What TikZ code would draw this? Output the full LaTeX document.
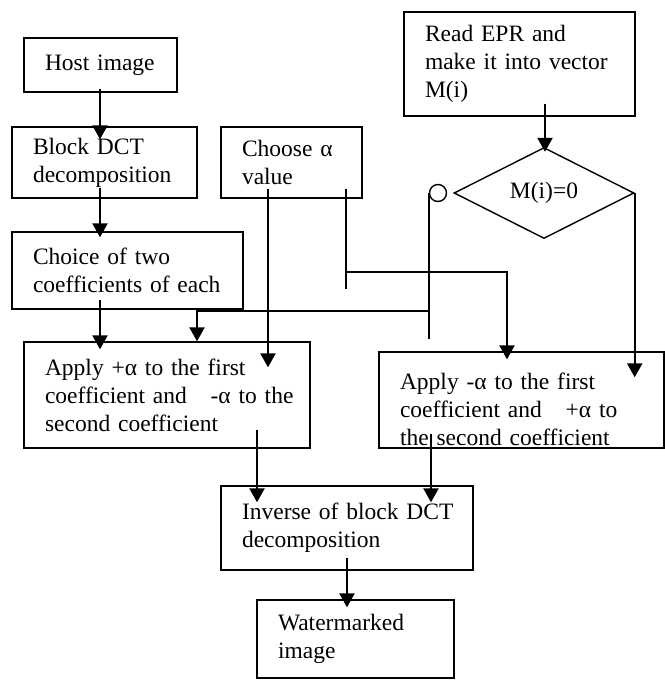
\documentclass[tikz,border=0pt]{standalone}
\usepackage{fontspec}
\setmainfont{Liberation Serif}
\usetikzlibrary{arrows.meta,shapes.geometric,calc}

\tikzset{
  box/.style={draw, line width=1.4pt, align=left, inner xsep=21pt, inner ysep=0pt,
    font=\fontsize{23.5}{28}\selectfont},
  arr/.style={line width=2.4pt, -{Triangle[length=14pt,width=15pt]}},
  wire/.style={line width=1.8pt},
}

\begin{document}
\begin{tikzpicture}[x=1pt, y=-1pt]
    \useasboundingbox (0,0) rectangle (664,680);
    \node[box, text width=111pt, minimum height=54pt] (host) at (100.5,65) {Host~image};
    \node[box, text width=143pt, minimum height=71pt] (dct) at (104.5,162.5) {Block~DCT\\decomposition};
    \node[box, text width=99pt, minimum height=71pt] (alpha) at (291.5,162.5) {Choose~α\\value};
    \node[box, text width=189pt, minimum height=77pt] (choice) at (127.5,270.5) {Choice~of~two\\coefficients~of~each};
    \node[box, text width=189pt, minimum height=104pt] (epr) at (519.5,64) {Read~EPR~and\\make~it~into~vector\\M(i)};
    \node[draw, diamond, line width=1.4pt, aspect=2, minimum width=180pt, minimum height=91pt,
      inner sep=0pt, font=\fontsize{23.5}{28}\selectfont] (test) at (544,193) {M(i)=0};
    \node[draw, circle, line width=1.4pt, minimum size=17pt, inner sep=0pt] (no) at (438,193) {};
    \node[box, text width=244pt, minimum height=106pt] (applyp) at (167,395)
      {\mbox{Apply +α to the first}\\\mbox{coefficient and\hspace{16pt} -α to the}\\\mbox{second coefficient}};
    \node[box, text width=243pt, minimum height=96pt] (applym) at (521.5,400)
      {\rule{0pt}{35pt}\mbox{Apply -α to the first}\\\mbox{coefficient and\hspace{16pt} +α to}\\\mbox{the second coefficient}};
    \node[box, text width=210pt, minimum height=84pt] (inverse) at (347,528) {Inverse~of~block~DCT\\decomposition};
    \node[box, text width=155pt, minimum height=78pt] (water) at (355.5,639) {Watermarked\\image};

    \draw[arr] ($(host.south)+(-0.5,-4)$) -- ($(dct.north)+(-4.5,13)$);
    \draw[arr] ($(dct.south)+(-4.5,-11)$) -- ($(choice.north)+(-27.5,6)$);
    \draw[arr] ($(choice.south)+(-27.5,-10)$) -- ($(applyp.north)+(-67,8)$);
    \draw[arr] ($(alpha.south)+(-23.5,-10)$) -- ($(applyp.north)+(101,26)$);
    \draw[arr] ($(epr.south)+(25.5,-13)$) -- ($(test.north)+(1,5)$);
    \draw[arr] (test.east) -- ($(test.east |- applym.north)+(0,26)$);

    \coordinate (nojoin) at ($(no.west)+(0,118)$);
    \draw[wire] (no.west) -- ($(no.west)+(0,146)$);
    \draw[arr] (nojoin) -| ($(applyp.north)+(30,0)$);

    \coordinate (ajoin) at ($(alpha.south)+(54.5,73)$);
    \draw[wire] ($(alpha.south)+(54.5,-10)$) -- ($(alpha.south)+(54.5,90)$);
    \draw[arr] (ajoin) -| ($(applym.north)+(-14.5,8)$);

    \draw[arr] ($(applyp.south)+(90,-19)$) -- ($(inverse.north)+(-90,17)$);
    \draw[arr] ($(applym.south)+(-90.5,-15)$) -- ($(inverse.north)+(84,17)$);
    \draw[arr] ($(inverse.south)+(0,-13)$) -- ($(water.north)+(-8.5,8)$);
\end{tikzpicture}
\end{document}
